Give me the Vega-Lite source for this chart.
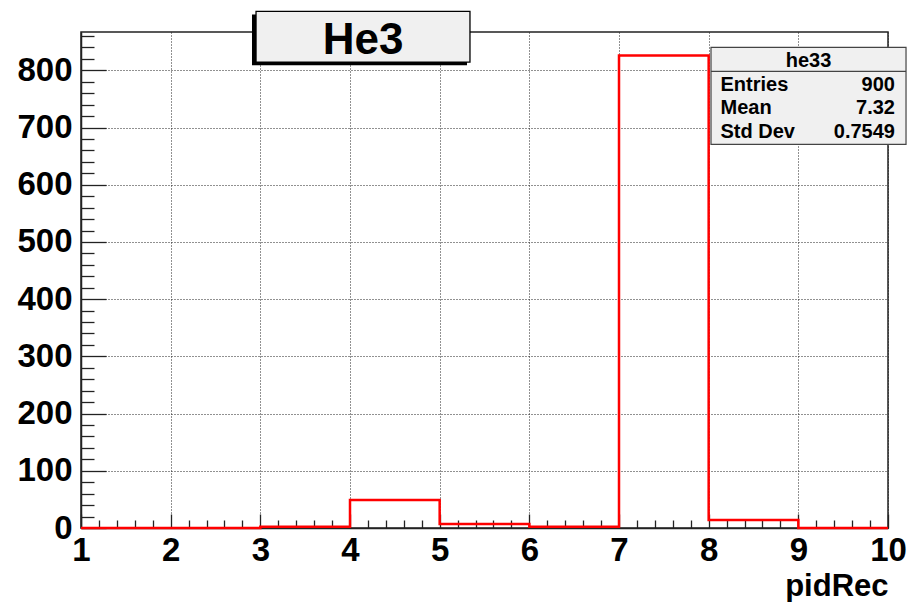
{
  "$schema": "https://vega.github.io/schema/vega-lite/v6.json",
  "width": 807,
  "height": 496,
  "autosize": {"type": "none"},
  "padding": {"left": 81, "top": 32, "right": 24, "bottom": 74},
  "background": "white",
  "config": {
    "view": {"stroke": "#222", "strokeWidth": 1.5},
    "font": "Liberation Sans"
  },
  "datasets": {
    "hist": [
      {"pidRec": 1, "count": 0},
      {"pidRec": 2, "count": 0},
      {"pidRec": 3, "count": 2},
      {"pidRec": 4, "count": 49},
      {"pidRec": 5, "count": 7},
      {"pidRec": 6, "count": 2},
      {"pidRec": 7, "count": 826},
      {"pidRec": 8, "count": 14},
      {"pidRec": 9, "count": 0},
      {"pidRec": 10, "count": 0}
    ]
  },
  "data": {"name": "hist"},
  "layer": [
    {
      "mark": {"type": "line", "opacity": 0},
      "encoding": {
        "x": {
          "field": "pidRec", "type": "quantitative",
          "scale": {"domain": [1, 10], "nice": false, "zero": false},
          "axis": {
            "orient": "bottom",
            "values": [1.2,1.4,1.6,1.8,2.2,2.4,2.6,2.8,3.2,3.4,3.6,3.8,4.2,4.4,4.6,4.8,5.2,5.4,5.6,5.8,6.2,6.4,6.6,6.8,7.2,7.4,7.6,7.8,8.2,8.4,8.6,8.8,9.2,9.4,9.6,9.8],
            "labels": false, "domain": false, "grid": false, "title": null,
            "tickSize": -8, "tickColor": "#222", "tickWidth": 1.3
          }
        },
        "y": {
          "field": "count", "type": "quantitative",
          "scale": {"domain": [0, 867], "nice": false, "zero": false},
          "axis": {
            "orient": "left",
            "values": [20,40,60,80,120,140,160,180,220,240,260,280,320,340,360,380,420,440,460,480,520,540,560,580,620,640,660,680,720,740,760,780,820,840,860],
            "labels": false, "domain": false, "grid": false, "title": null,
            "tickSize": -13, "tickColor": "#222", "tickWidth": 1.3
          }
        }
      }
    },
    {
      "mark": {"type": "line", "interpolate": "step-after", "color": "#ff0000", "strokeWidth": 2.5, "clip": false},
      "encoding": {
        "x": {
          "field": "pidRec", "type": "quantitative",
          "scale": {"domain": [1, 10], "nice": false, "zero": false},
          "axis": {
            "orient": "bottom",
            "values": [1,2,3,4,5,6,7,8,9,10],
            "format": "d",
            "grid": true, "gridDash": [1, 2], "gridColor": "#222", "gridOpacity": 1, "gridWidth": 1,
            "tickSize": -14, "tickColor": "#222", "tickWidth": 1.3,
            "domainColor": "#222", "domainWidth": 1.5,
            "labelFont": "Liberation Sans", "labelFontWeight": "bold", "labelFontSize": 33,
            "labelColor": "#000", "labelPadding": 20, "labelFlush": false, "labelOverlap": false,
            "title": "pidRec", "titleFont": "Liberation Sans", "titleFontWeight": "bold", "titleFontSize": 31,
            "titleColor": "#000", "titleAnchor": "end", "titlePadding": 4
          }
        },
        "y": {
          "field": "count", "type": "quantitative",
          "scale": {"domain": [0, 867], "nice": false, "zero": false},
          "axis": {
            "orient": "left",
            "values": [0,100,200,300,400,500,600,700,800],
            "format": "d",
            "grid": true, "gridDash": [1, 2], "gridColor": "#222", "gridOpacity": 1, "gridWidth": 1,
            "tickSize": -25, "tickColor": "#222", "tickWidth": 1.3,
            "domainColor": "#222", "domainWidth": 1.5,
            "labelFont": "Liberation Sans", "labelFontWeight": "bold", "labelFontSize": 33,
            "labelColor": "#000", "labelPadding": 34, "labelFlush": false, "labelOverlap": false,
            "title": null
          }
        }
      }
    },
    {
      "data": {"values": [{}]},
      "mark": {"type": "rect", "color": "#000"},
      "encoding": {
        "x": {"datum": 2.907, "type": "quantitative", "axis": null},
        "x2": {"datum": 5.305},
        "y": {"datum": 897.8, "type": "quantitative", "axis": null},
        "y2": {"datum": 808.7}
      }
    },
    {
      "data": {"values": [{}]},
      "mark": {"type": "rect", "fill": "#f0f0f0", "stroke": "#000", "strokeWidth": 1.3},
      "encoding": {
        "x": {"datum": 2.952, "type": "quantitative", "axis": null},
        "x2": {"datum": 5.338},
        "y": {"datum": 903.1, "type": "quantitative", "axis": null},
        "y2": {"datum": 814.5}
      }
    },
    {
      "data": {"values": [{}]},
      "mark": {"type": "text", "text": "He3", "font": "Liberation Sans", "fontWeight": "bold", "fontSize": 44, "align": "center", "baseline": "alphabetic", "color": "#000"},
      "encoding": {
        "x": {"datum": 4.145, "type": "quantitative", "axis": null},
        "y": {"datum": 829, "type": "quantitative", "axis": null}
      }
    },
    {
      "data": {"values": [{}]},
      "mark": {"type": "rect", "fill": "#f0f0f0", "stroke": "#444", "strokeWidth": 1.2},
      "encoding": {
        "x": {"datum": 8.026, "type": "quantitative", "axis": null},
        "x2": {"datum": 10.201},
        "y": {"datum": 840.2, "type": "quantitative", "axis": null},
        "y2": {"datum": 670.7}
      }
    },
    {
      "data": {"values": [{}]},
      "mark": {"type": "rule", "color": "#444", "strokeWidth": 1.2},
      "encoding": {
        "x": {"datum": 8.026, "type": "quantitative", "axis": null},
        "x2": {"datum": 10.201},
        "y": {"datum": 798.3, "type": "quantitative", "axis": null}
      }
    },
    {
      "data": {"values": [{}]},
      "mark": {"type": "text", "text": "he33", "font": "Liberation Sans", "fontWeight": "bold", "fontSize": 20, "align": "center", "baseline": "alphabetic", "color": "#000"},
      "encoding": {
        "x": {"datum": 9.113, "type": "quantitative", "axis": null},
        "y": {"datum": 805.2, "type": "quantitative", "axis": null}
      }
    },
    {
      "data": {"values": [{"label": "Entries", "value": "900", "ypos": 763.3}, {"label": "Mean", "value": "7.32", "ypos": 723.1}, {"label": "Std Dev", "value": "0.7549", "ypos": 681.2}]},
      "layer": [
        {
          "mark": {"type": "text", "font": "Liberation Sans", "fontWeight": "bold", "fontSize": 20, "align": "left", "baseline": "alphabetic", "color": "#000"},
          "encoding": {
            "x": {"datum": 8.132, "type": "quantitative", "axis": null},
            "y": {"field": "ypos", "type": "quantitative", "axis": null},
            "text": {"field": "label"}
          }
        },
        {
          "mark": {"type": "text", "font": "Liberation Sans", "fontWeight": "bold", "fontSize": 20, "align": "right", "baseline": "alphabetic", "color": "#000"},
          "encoding": {
            "x": {"datum": 10.078, "type": "quantitative", "axis": null},
            "y": {"field": "ypos", "type": "quantitative", "axis": null},
            "text": {"field": "value"}
          }
        }
      ]
    }
  ],
  "resolve": {"axis": {"x": "independent", "y": "independent"}}
}
